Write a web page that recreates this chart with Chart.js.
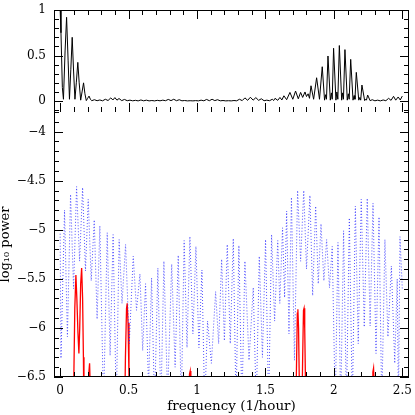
<!DOCTYPE html>
<html><head><meta charset="utf-8">
<script src="https://cdn.jsdelivr.net/npm/chart.js@4.4.0/dist/chart.umd.min.js"></script>
<style>
html,body{margin:0;padding:0;background:#fff;}
#wrap{position:relative;width:415px;height:415px;overflow:hidden;}
canvas{position:absolute;left:0;top:0;}
#cTop{z-index:2;}
</style></head><body>
<div id="wrap">
<canvas id="cBot" width="415" height="415" style="width:415px;height:415px"></canvas>
<canvas id="cTop" width="415" height="113" style="width:415px;height:113px"></canvas>
</div>
<script>
// ---- data ----
const topFreq = [0.000,0.006,0.016,0.024,0.036,0.047,0.058,0.068,0.078,0.088,0.098,0.108,0.118,0.129,0.139,0.150,0.160,0.171,0.181,0.191,0.201,0.211,0.221,0.231,0.25,0.27,0.29,0.31,0.33,0.35,0.37,0.385,0.40,0.415,0.43,0.45,0.47,0.49,0.51,0.53,0.55,0.57,0.59,0.61,0.63,0.65,0.67,0.69,0.71,0.73,0.75,0.77,0.79,0.81,0.83,0.85,0.87,0.89,0.91,0.93,0.95,0.97,0.99,1.01,1.03,1.05,1.07,1.09,1.11,1.13,1.15,1.17,1.19,1.21,1.23,1.25,1.27,1.29,1.31,1.33,1.35,1.37,1.39,1.41,1.43,1.45,1.47,1.49,1.51,1.53,1.55,1.56,1.57,1.59,1.606,1.62,1.635,1.655,1.679,1.70,1.72,1.74,1.757,1.772,1.789,1.80,1.812,1.822,1.833,1.852,1.874,1.895,1.915,1.932,1.940,1.946,1.957,1.974,1.982,1.988,1.998,2.015,2.022,2.029,2.040,2.057,2.064,2.070,2.081,2.098,2.106,2.112,2.123,2.140,2.148,2.154,2.164,2.182,2.190,2.196,2.205,2.225,2.233,2.238,2.247,2.265,2.28,2.30,2.32,2.34,2.36,2.38,2.40,2.418,2.436,2.452,2.47,2.485,2.50];
const topPower = [1.00,0.75,0.15,0.02,0.55,0.92,0.45,0.02,0.35,0.70,0.33,0.02,0.20,0.425,0.20,0.01,0.10,0.20,0.08,0.005,0.03,0.055,0.02,0.004,0.015,0.004,0.012,0.003,0.02,0.006,0.035,0.012,0.038,0.01,0.028,0.005,0.018,0.004,0.01,0.003,0.008,0.002,0.012,0.003,0.01,0.002,0.006,0.002,0.008,0.003,0.01,0.004,0.018,0.005,0.02,0.004,0.015,0.003,0.006,0.002,0.004,0.002,0.005,0.002,0.01,0.003,0.018,0.004,0.02,0.005,0.015,0.003,0.006,0.002,0.004,0.002,0.006,0.003,0.02,0.005,0.035,0.008,0.042,0.01,0.038,0.008,0.025,0.004,0.01,0.004,0.02,0.006,0.03,0.008,0.04,0.012,0.058,0.015,0.095,0.02,0.11,0.025,0.095,0.04,0.10,0.05,0.08,0.03,0.168,0.02,0.256,0.02,0.377,0.01,0.07,0.02,0.495,0.01,0.09,0.02,0.58,0.01,0.10,0.02,0.61,0.01,0.09,0.02,0.565,0.01,0.08,0.02,0.458,0.01,0.06,0.02,0.315,0.01,0.04,0.01,0.176,0.005,0.02,0.01,0.066,0.004,0.015,0.003,0.01,0.002,0.012,0.004,0.03,0.008,0.052,0.01,0.045,0.012,0.055];

const blueFreq = [0.000,0.006,0.032,0.053,0.076,0.098,0.120,0.142,0.164,0.185,0.205,0.227,0.249,0.270,0.290,0.317,0.344,0.365,0.387,0.410,0.431,0.452,0.478,0.505,0.534,0.558,0.583,0.603,0.624,0.646,0.668,0.690,0.714,0.736,0.758,0.785,0.815,0.840,0.863,0.885,0.906,0.927,0.948,0.970,0.992,1.014,1.036,1.056,1.077,1.105,1.136,1.158,1.180,1.200,1.221,1.243,1.265,1.285,1.306,1.328,1.350,1.380,1.411,1.433,1.455,1.478,1.501,1.523,1.545,1.567,1.590,1.605,1.625,1.640,1.655,1.672,1.690,1.712,1.735,1.757,1.780,1.800,1.825,1.845,1.867,1.886,1.906,1.927,1.947,1.968,1.988,2.010,2.030,2.050,2.071,2.092,2.113,2.135,2.157,2.178,2.200,2.222,2.244,2.265,2.286,2.308,2.330,2.350,2.373,2.395,2.420,2.445,2.463,2.472,2.483,2.500];
const bluePower = [-5.04,-6.31,-4.80,-6.09,-4.64,-5.60,-4.56,-5.32,-4.57,-5.42,-4.69,-5.52,-4.90,-5.91,-4.96,-6.80,-5.03,-6.28,-5.05,-6.80,-5.10,-5.75,-5.15,-6.16,-5.27,-5.82,-5.45,-6.23,-5.55,-6.60,-5.49,-6.80,-5.39,-6.80,-5.32,-6.70,-5.35,-6.40,-5.26,-6.80,-5.11,-6.20,-5.07,-6.06,-5.17,-6.20,-5.41,-6.80,-5.93,-6.36,-5.63,-6.16,-5.30,-6.13,-5.15,-6.16,-5.09,-6.80,-5.16,-6.80,-5.32,-6.33,-5.59,-6.80,-5.27,-6.30,-5.10,-6.80,-5.05,-5.93,-5.11,-5.75,-4.98,-5.69,-4.81,-6.06,-4.67,-6.33,-4.60,-5.32,-4.60,-5.40,-4.65,-5.67,-4.76,-5.55,-4.94,-5.52,-5.10,-5.59,-5.17,-6.80,-5.13,-6.80,-5.01,-6.80,-4.88,-6.80,-4.76,-6.16,-4.69,-5.99,-4.68,-5.98,-4.73,-6.26,-4.87,-6.80,-5.10,-6.09,-5.37,-6.36,-5.50,-6.80,-5.07,-5.60];

const redFreq = [0.095,0.100,0.107,0.115,0.122,0.130,0.137,0.143,0.150,0.157,0.164,0.170,0.174,0.205,0.210,0.215,0.220,0.225,0.470,0.477,0.485,0.490,0.496,0.503,0.507,0.940,0.945,0.950,0.955,0.960,1.720,1.728,1.733,1.737,1.742,1.748,1.752,1.765,1.772,1.778,1.782,1.787,1.793,1.797,2.280,2.285,2.290,2.295,2.300];
const redPower = [-7.0,-6.5,-5.8,-5.46,-5.7,-6.05,-6.26,-6.0,-5.55,-5.39,-5.7,-6.3,-7.0,-7.0,-6.45,-6.36,-6.6,-7.0,-7.0,-6.3,-5.8,-5.75,-5.95,-6.5,-7.0,-7.0,-6.47,-6.44,-6.7,-7.0,-7.0,-6.3,-5.85,-5.81,-6.0,-6.6,-7.0,-7.0,-6.3,-5.82,-5.80,-6.0,-6.6,-7.0,-7.0,-6.45,-6.41,-6.6,-7.0];

const xTickLabels = ['0','0.5','1','1.5','2','2.5'];
const topYTickLabels = ['0','0.5','1'];
const botYTickLabels = ['\u22124','\u22124.5','\u22125','\u22125.5','\u22126','\u22126.5'];

// ---- helpers ----
const pts = (xs, ys) => xs.map((x, i) => ({x: x, y: ys[i]}));
const SERIF = "'DejaVu Serif', serif";

function zeroPad(s) { s.paddingTop = 0; s.paddingBottom = 0; s.paddingLeft = 0; s.paddingRight = 0; }

function frameTicks(opts) {
  return {
    id: 'frameTicks',
    afterDatasetsDraw(chart) {
      const {ctx, chartArea: a, scales: {x, y}} = chart;
      ctx.save();
      ctx.strokeStyle = '#000';
      ctx.lineWidth = 1;
      ctx.beginPath();
      const L = Math.round(a.left) + 0.5, R = Math.round(a.right) - 0.5;
      const T = Math.round(a.top) + 0.5, B = Math.round(a.bottom) - 0.5;
      ctx.moveTo(L, a.top); ctx.lineTo(L, a.bottom);
      ctx.moveTo(R, a.top); ctx.lineTo(R, a.bottom);
      if (opts.topLine) { ctx.moveTo(a.left, T); ctx.lineTo(a.right, T); }
      if (opts.bottomLine) { ctx.moveTo(a.left, B); ctx.lineTo(a.right, B); }
      for (let k = 0; k <= 25; k++) {
        const px = Math.round(x.getPixelForValue(k / 10)) + 0.5;
        const len = (k % 5 === 0) ? 9 : 5;
        if (opts.topTicks) { ctx.moveTo(px, a.top); ctx.lineTo(px, a.top + len); }
        if (opts.bottomTicks) { ctx.moveTo(px, a.bottom); ctx.lineTo(px, a.bottom - len); }
      }
      const lo = Math.ceil(y.min * 10 - 1e-6), hi = Math.floor(y.max * 10 + 1e-6);
      for (let k = lo; k <= hi; k++) {
        const py = Math.round(y.getPixelForValue(k / 10)) + 0.5;
        const len = (Math.abs(k) % 5 === 0) ? 9 : 5;
        ctx.moveTo(a.left, py); ctx.lineTo(a.left + len, py);
        ctx.moveTo(a.right, py); ctx.lineTo(a.right - len, py);
      }
      ctx.stroke();
      ctx.restore();
    }
  };
}

const xMin = -0.045, xMax = 2.549;

// ---- top panel ----
new Chart(document.getElementById('cTop'), {
  type: 'line',
  data: { datasets: [{
    data: pts(topFreq, topPower),
    borderColor: '#000', borderWidth: 1, pointRadius: 0, tension: 0, clip: 0
  }]},
  options: {
    responsive: false, maintainAspectRatio: false, animation: false, devicePixelRatio: 1,
    layout: { padding: { top: 10, right: 6, left: 0, bottom: 1 } },
    plugins: { legend: { display: false }, tooltip: { enabled: false } },
    scales: {
      x: { type: 'linear', min: xMin, max: xMax, display: true,
           ticks: { display: false }, grid: { display: false, drawTicks: false }, border: { display: false },
           afterFit: s => { s.height = 0; zeroPad(s); } },
      y: { type: 'linear', min: -0.12, max: 1.0,
           ticks: { stepSize: 0.5, includeBounds: false, padding: 8, color: '#000',
                    font: { family: SERIF, size: 12 },
                    callback: v => topYTickLabels[Math.round(v * 2)] },
           grid: { display: false, drawTicks: false }, border: { display: false },
           afterFit: s => { s.width = 54; zeroPad(s); } }
    }
  },
  plugins: [frameTicks({ topLine: true, bottomLine: false, topTicks: true, bottomTicks: true })]
});

// ---- bottom panel ----
new Chart(document.getElementById('cBot'), {
  type: 'line',
  data: { datasets: [
    { data: pts(blueFreq, bluePower), borderColor: 'rgba(40,40,255,0.8)', borderWidth: 1,
      borderDash: [1, 2], pointRadius: 0, tension: 0, clip: 0 },
    { data: pts(redFreq, redPower), borderColor: '#ff0000', borderWidth: 1.3,
      pointRadius: 0, tension: 0, clip: 0 }
  ]},
  options: {
    responsive: false, maintainAspectRatio: false, animation: false, devicePixelRatio: 1,
    layout: { padding: { top: 112, right: 6, left: 0, bottom: 0 } },
    plugins: { legend: { display: false }, tooltip: { enabled: false } },
    scales: {
      x: { type: 'linear', min: xMin, max: xMax,
           ticks: { stepSize: 0.5, includeBounds: false, padding: 7, color: '#000', maxRotation: 0,
                    font: { family: SERIF, size: 12 },
                    callback: v => xTickLabels[Math.round(v * 2)] },
           grid: { display: false, drawTicks: false }, border: { display: false },
           title: { display: true, text: 'frequency (1/hour)', color: '#000',
                    font: { family: SERIF, size: 13.5, lineHeight: 1.2 }, padding: { top: 0, bottom: 0 } },
           afterFit: s => { s.height = 38; zeroPad(s); } },
      y: { type: 'linear', min: -6.5, max: -3.8,
           ticks: { stepSize: 0.5, includeBounds: false, padding: 8, color: '#000',
                    font: { family: SERIF, size: 12 },
                    callback: v => botYTickLabels[Math.round((-4 - v) * 2)] },
           grid: { display: false, drawTicks: false }, border: { display: false },
           title: { display: true, text: 'log\u2081\u2080 power', color: '#000',
                    font: { family: SERIF, size: 13, lineHeight: 0.9 }, padding: { top: 0, bottom: 0 } },
           afterFit: s => { s.width = 54; zeroPad(s); } }
    }
  },
  plugins: [frameTicks({ topLine: false, bottomLine: true, topTicks: false, bottomTicks: true })]
});
</script>
</body></html>
